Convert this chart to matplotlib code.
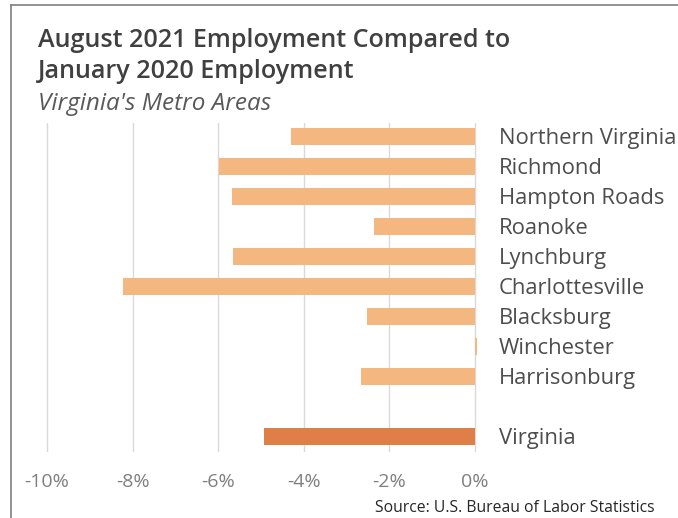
import matplotlib.pyplot as plt
from matplotlib.lines import Line2D

areas = ["Northern Virginia", "Richmond", "Hampton Roads", "Roanoke", "Lynchburg",
         "Charlottesville", "Blacksburg", "Winchester", "Harrisonburg", "Virginia"]
change = [-4.30, -5.98, -5.67, -2.36, -5.65, -8.22, -2.52, 0.04, -2.67, -4.92]
slots = [0, 1, 2, 3, 4, 5, 6, 7, 8, 10]
ticks = [-10, -8, -6, -4, -2, 0]
tick_labels = ["-10%", "-8%", "-6%", "-4%", "-2%", "0%"]

metro_color = "#F3B77F"
state_color = "#DF7F47"
colors = [metro_color] * 9 + [state_color]

plt.rcParams["font.family"] = ["Open Sans", "DejaVu Sans"]

W, H = 678, 518
fig = plt.figure(figsize=(W / 100, H / 100), dpi=100)

# axes placed so that 1% = ~42.8 px and the bars sit 30 px apart
x0, x1 = -10.2, 0.3
px_left, px_right = 475 + x0 * 42.8, 475 + x1 * 42.8
ax = fig.add_axes([px_left / W, 1 - 452 / H, (px_right - px_left) / W, (452 - 123) / H])

ax.barh(slots, change, height=0.56, color=colors, zorder=3, clip_on=False)
ax.set_xlim(x0, x1)
ax.set_ylim(10.52, -0.45)

ax.set_xticks(ticks)
ax.set_xticklabels(tick_labels, color="#7f7f7f", fontsize=14)
ax.grid(axis="x", color="#d9d9d9", linewidth=1, zorder=0)
ax.tick_params(axis="x", length=0, pad=15)

ax.yaxis.tick_right()
ax.set_yticks(slots)
ax.set_yticklabels(areas, color="#4d4d4d", fontsize=15.8)
ax.tick_params(axis="y", length=0, pad=8)

for s in ax.spines.values():
    s.set_visible(False)

fig.text(38 / W, 1 - 47 / H, "August 2021 Employment Compared to", fontsize=18.1,
         fontweight="semibold", color="#404040", va="baseline")
fig.text(38 / W, 1 - 78 / H, "January 2020 Employment", fontsize=18.1,
         fontweight="semibold", color="#404040", va="baseline")
fig.text(38 / W, 1 - 110 / H, "Virginia's Metro Areas", fontsize=17.5, style="italic",
         color="#595959", va="baseline")
fig.text(655 / W, 1 - 512 / H, "Source: U.S. Bureau of Labor Statistics", fontsize=11.3,
         color="#262626", ha="right", va="baseline")

# thin frame along the top and left edges
fig.add_artist(Line2D([11 / W, 11 / W], [0, 1 - 5 / H], color="#7f7f7f", linewidth=1.2))
fig.add_artist(Line2D([11 / W, 1], [1 - 5 / H, 1 - 5 / H], color="#7f7f7f", linewidth=1.2))

fig.savefig("out.png", dpi=100)
